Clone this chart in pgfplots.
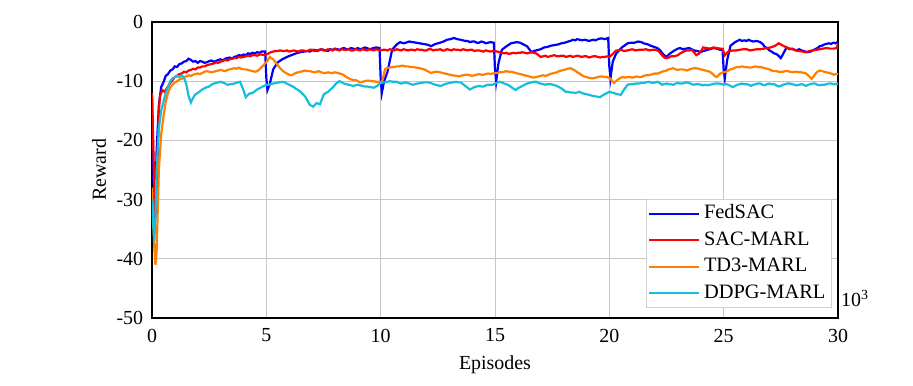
\documentclass[border=0pt]{standalone}
\usepackage{fontspec}
\setmainfont{Liberation Serif}
\usepackage{pgfplots}
\pgfplotsset{compat=1.18}
\definecolor{cFed}{RGB}{0,0,255}
\definecolor{cSAC}{RGB}{255,0,0}
\definecolor{cTD3}{RGB}{255,128,0}
\definecolor{cDDPG}{RGB}{20,190,220}
\begin{document}
\fontsize{20}{24}\selectfont
\begin{tikzpicture}
\begin{axis}[
  width=686bp, height=296bp, scale only axis,
  xmin=0, xmax=30, ymin=-50, ymax=0,
  xtick={0,5,...,30}, ytick={-50,-40,...,0},
  grid=major, major grid style={draw=black!22, line width=0.8bp},
  major tick length=0pt,
  axis line style={line width=1.5bp},
  tick label style={font=\fontsize{20}{24}\selectfont},
  label style={font=\fontsize{20}{24}\selectfont},
  /pgf/number format/assume math mode=true,
  xlabel={Episodes}, ylabel={Reward},
  xticklabel style={yshift=-4bp},
  yticklabel style={xshift=-2bp},
  ylabel style={yshift=-3bp},
  xlabel style={yshift=0bp},
  clip mode=individual,
  legend cell align=left,
  legend style={at={(0.991,0.034)}, anchor=south east, draw=black!18, line width=0.8bp,
    inner xsep=2bp, inner ysep=1bp, row sep=0pt,
    font=\fontsize{20.5}{24}\selectfont,
    nodes={inner xsep=4bp, inner ysep=4bp, text height=14bp, text depth=4.5bp}},
  legend image code/.code={\draw[#1, line width=1.9bp] (0bp,0bp) -- (50bp,0bp);},
]
\addplot[cFed, line width=2.2bp] table {
0 -12.5
0.05 -22
0.1 -34
0.15 -30
0.2 -22
0.3 -14
0.4 -11
0.5 -10.2
0.6 -9.1
0.7 -8.8
0.8 -8.2
0.9 -8.0
1.0 -7.5
1.1 -7.6
1.2 -7.1
1.3 -7.0
1.4 -6.7
1.5 -6.6
1.6 -6.2
1.7 -6.4
1.8 -6.7
1.9 -6.6
2.0 -6.9
2.1 -6.6
2.2 -6.7
2.3 -6.9
2.4 -6.8
2.5 -6.6
2.6 -6.5
2.7 -6.7
2.8 -6.6
2.9 -6.4
3.0 -6.3
3.1 -6.5
3.2 -6.2
3.3 -6.1
3.4 -6.0
3.5 -6.2
3.6 -5.9
3.7 -5.8
3.8 -5.6
3.9 -5.7
4.0 -5.5
4.1 -5.6
4.2 -5.3
4.3 -5.4
4.4 -5.2
4.5 -5.3
4.6 -5.1
4.7 -5.2
4.8 -5.0
4.95 -5.0
5.0 -9.5
5.05 -11.5
5.15 -10.5
5.3 -8.0
5.5 -6.8
5.7 -6.3
5.9 -5.9
6.1 -5.6
6.3 -5.3
6.5 -5.1
6.65 -5.0
6.8 -4.9
6.9 -5.0
7.0 -4.8
7.1 -4.7
7.2 -4.9
7.3 -4.8
7.4 -4.6
7.5 -4.7
7.6 -4.8
7.7 -4.9
7.8 -4.6
7.9 -4.7
8.0 -4.5
8.1 -4.6
8.2 -4.7
8.3 -4.5
8.4 -4.4
8.5 -4.6
8.6 -4.6
8.7 -4.4
8.8 -4.5
8.9 -4.6
9.0 -4.4
9.1 -4.6
9.2 -4.5
9.3 -4.3
9.4 -4.4
9.5 -4.6
9.6 -4.5
9.7 -4.4
9.8 -4.3
9.95 -4.4
10.0 -9.5
10.05 -12
10.15 -10
10.3 -8.4
10.5 -4.7
10.7 -3.8
10.85 -3.4
11.0 -3.6
11.1 -3.5
11.25 -3.3
11.4 -3.4
11.55 -3.5
11.7 -3.6
11.85 -3.7
12.0 -3.8
12.1 -3.9
12.2 -4.1
12.3 -3.9
12.4 -3.7
12.5 -3.6
12.6 -3.5
12.75 -3.3
12.9 -3.0
13.05 -2.9
13.2 -2.7
13.35 -2.9
13.5 -3.0
13.6 -3.1
13.7 -3.2
13.8 -3.2
13.9 -3.4
14.0 -3.3
14.1 -3.3
14.2 -3.5
14.3 -3.5
14.4 -3.3
14.5 -3.4
14.6 -3.6
14.7 -3.5
14.8 -3.4
14.95 -3.5
15.0 -8
15.05 -10.1
15.15 -7
15.3 -4.7
15.5 -4.1
15.7 -3.6
15.95 -3.4
16.1 -3.5
16.2 -3.7
16.3 -3.9
16.4 -4.1
16.5 -4.6
16.6 -5.1
16.7 -4.9
16.8 -4.8
16.9 -4.7
17.0 -4.6
17.15 -4.3
17.3 -4.2
17.45 -4.0
17.6 -3.9
17.75 -3.8
17.9 -3.6
18.05 -3.5
18.2 -3.3
18.3 -3.2
18.4 -3.0
18.5 -3.1
18.6 -2.9
18.7 -3.0
18.8 -3.1
18.95 -3.0
19.1 -3.2
19.2 -3.1
19.3 -3.0
19.4 -3.1
19.5 -2.9
19.6 -2.8
19.7 -2.8
19.8 -2.9
19.95 -2.7
20.0 -7.5
20.05 -9.5
20.15 -6.7
20.3 -5.3
20.55 -4.3
20.8 -3.6
20.95 -3.5
21.1 -3.5
21.25 -3.3
21.4 -3.4
21.5 -3.6
21.6 -3.7
21.7 -3.8
21.8 -4.0
21.95 -4.2
22.1 -4.4
22.2 -4.7
22.3 -5.2
22.4 -5.6
22.5 -5.9
22.6 -5.5
22.7 -5.2
22.85 -4.8
23.0 -4.5
23.1 -4.4
23.2 -4.6
23.35 -4.5
23.5 -4.4
23.6 -4.6
23.7 -4.8
23.85 -4.9
24.0 -5.1
24.1 -4.9
24.2 -4.8
24.3 -4.7
24.4 -4.6
24.55 -4.4
24.7 -4.5
24.85 -4.7
24.95 -4.6
25.0 -8.1
25.05 -9.5
25.15 -6.5
25.3 -4.0
25.5 -3.4
25.6 -3.2
25.7 -3.0
25.8 -3.2
25.9 -3.1
26.0 -3.2
26.1 -3.0
26.2 -3.2
26.3 -3.3
26.45 -3.2
26.6 -3.4
26.7 -3.7
26.8 -4.2
26.9 -4.4
27.0 -4.8
27.1 -5.0
27.2 -5.3
27.3 -5.4
27.4 -5.7
27.5 -6.1
27.6 -5.4
27.75 -4.3
27.9 -4.6
28.0 -4.5
28.1 -4.7
28.2 -4.8
28.3 -4.6
28.4 -4.8
28.5 -4.9
28.65 -5.1
28.8 -5.0
28.9 -4.8
29.0 -4.6
29.1 -4.4
29.2 -4.1
29.3 -4.0
29.4 -3.8
29.5 -3.7
29.6 -3.6
29.7 -3.7
29.8 -3.5
29.9 -3.6
30 -3.3
};
\addlegendentry{FedSAC}
\addplot[cSAC, line width=2.2bp] table {
0 -12
0.05 -20
0.1 -28
0.15 -33
0.2 -30
0.25 -22
0.3 -15
0.35 -12.5
0.45 -11.5
0.55 -11.8
0.65 -11.2
0.8 -10.3
0.9 -9.8
1.0 -9.3
1.1 -9.1
1.2 -8.8
1.3 -8.7
1.4 -8.4
1.5 -8.5
1.6 -8.2
1.7 -8.1
1.8 -7.9
1.9 -8.0
2.0 -7.7
2.1 -7.7
2.2 -7.5
2.3 -7.5
2.4 -7.3
2.5 -7.2
2.6 -7.1
2.7 -7.0
2.8 -6.8
2.9 -6.9
3.0 -6.7
3.1 -6.6
3.2 -6.4
3.3 -6.5
3.4 -6.3
3.5 -6.2
3.6 -6.1
3.7 -6.1
3.8 -5.9
3.9 -6.0
4.0 -5.9
4.1 -5.8
4.2 -5.7
4.3 -5.8
4.4 -5.6
4.5 -5.6
4.6 -5.7
4.7 -5.5
4.8 -5.5
4.9 -5.6
5.0 -5.5
5.1 -5.3
5.2 -5.1
5.3 -5.0
5.4 -4.9
5.5 -4.9
5.6 -4.8
5.7 -4.9
5.8 -4.9
5.9 -4.8
6.0 -5.0
6.1 -4.9
6.2 -4.8
6.3 -4.9
6.4 -5.0
6.5 -4.8
6.6 -4.8
6.7 -4.9
6.8 -4.9
6.9 -4.7
7.0 -4.7
7.1 -4.9
7.2 -4.8
7.3 -4.7
7.4 -4.6
7.5 -4.8
7.6 -4.8
7.7 -4.6
7.8 -4.7
7.9 -4.8
8.0 -4.6
8.1 -4.7
8.2 -4.8
8.3 -4.6
8.4 -4.7
8.5 -4.7
8.6 -4.6
8.7 -4.8
8.8 -4.8
8.9 -4.6
9.0 -4.7
9.1 -4.8
9.2 -4.6
9.3 -4.7
9.4 -4.8
9.5 -4.6
9.6 -4.7
9.7 -4.8
9.8 -4.6
9.9 -4.7
10.0 -4.8
10.1 -4.7
10.2 -4.7
10.3 -4.8
10.4 -4.6
10.5 -4.7
10.6 -4.8
10.7 -4.6
10.8 -4.7
10.9 -4.8
11.0 -4.6
11.1 -4.7
11.2 -4.8
11.3 -4.7
11.4 -4.7
11.5 -4.8
11.6 -4.6
11.7 -4.7
11.8 -4.7
11.9 -4.8
12.0 -4.8
12.1 -4.6
12.2 -4.6
12.3 -4.8
12.4 -4.7
12.5 -4.7
12.6 -4.6
12.7 -4.8
12.8 -4.8
12.9 -4.6
13.0 -4.7
13.1 -4.8
13.2 -4.6
13.3 -4.7
13.4 -4.7
13.5 -4.8
13.6 -4.6
13.7 -4.7
13.8 -4.8
13.9 -4.7
14.0 -4.7
14.1 -4.9
14.2 -4.8
14.3 -4.8
14.4 -4.9
14.5 -5.0
14.6 -4.8
14.7 -4.9
14.8 -5.0
14.9 -4.9
15.0 -4.9
15.1 -5.0
15.2 -5.1
15.3 -5.2
15.4 -5.3
15.5 -5.2
15.6 -5.4
15.7 -5.3
15.8 -5.2
15.9 -5.3
16.0 -5.2
16.1 -5.2
16.2 -5.1
16.3 -5.2
16.4 -5.3
16.5 -5.2
16.6 -5.1
16.7 -5.2
16.8 -5.3
16.9 -5.6
17.0 -5.9
17.1 -5.8
17.2 -5.7
17.3 -5.9
17.4 -5.8
17.5 -5.7
17.6 -5.6
17.7 -5.8
17.8 -5.8
17.9 -5.7
18.0 -5.7
18.1 -5.9
18.2 -5.8
18.3 -5.7
18.4 -5.9
18.5 -5.8
18.6 -5.7
18.7 -5.8
18.8 -5.9
18.9 -5.8
19.0 -5.8
19.1 -6.0
19.2 -5.9
19.3 -5.8
19.4 -5.8
19.5 -5.9
19.6 -6.0
19.7 -5.9
19.8 -5.9
19.9 -5.8
20.0 -5.9
20.15 -5.4
20.3 -4.8
20.4 -4.8
20.5 -4.7
20.65 -4.9
20.8 -4.8
20.9 -4.7
21.0 -4.6
21.15 -4.8
21.3 -4.7
21.45 -4.7
21.6 -4.6
21.75 -4.8
21.9 -4.7
22.0 -4.7
22.1 -4.8
22.2 -5.1
22.3 -5.6
22.4 -6.0
22.5 -6.1
22.6 -6.0
22.7 -5.8
22.85 -5.8
23.0 -5.6
23.1 -5.3
23.2 -5.1
23.3 -4.9
23.4 -4.8
23.5 -4.8
23.6 -4.7
23.7 -5.1
23.8 -5.6
23.9 -5.4
24.0 -5.0
24.1 -4.3
24.25 -4.4
24.4 -4.5
24.55 -4.3
24.7 -4.4
24.85 -4.5
24.95 -4.5
25.05 -5.6
25.1 -5.4
25.2 -5.0
25.3 -4.9
25.4 -4.8
25.55 -4.8
25.7 -4.7
25.85 -4.6
26.0 -4.6
26.15 -4.8
26.3 -4.7
26.45 -4.6
26.6 -4.6
26.75 -4.5
26.9 -4.4
27.05 -4.3
27.2 -4.1
27.3 -3.9
27.4 -3.6
27.5 -3.8
27.6 -4.0
27.7 -4.2
27.8 -4.4
27.9 -4.5
28.0 -4.6
28.15 -4.8
28.3 -4.9
28.45 -5.0
28.6 -5.1
28.75 -4.9
28.9 -4.8
29.05 -4.7
29.2 -4.6
29.35 -4.5
29.5 -4.4
29.65 -4.5
29.8 -4.5
29.95 -4.4
30 -3.6
};
\addlegendentry{SAC-MARL}
\addplot[cTD3, line width=2.2bp] table {
0 -28
0.05 -33
0.1 -38
0.15 -41
0.2 -39
0.25 -32
0.3 -25
0.4 -19
0.5 -16
0.6 -13.5
0.7 -12
0.8 -11
0.9 -10.6
1.0 -10.2
1.1 -10.0
1.2 -9.7
1.3 -9.6
1.4 -9.3
1.5 -9.2
1.6 -9.0
1.7 -9.1
1.8 -8.9
1.9 -8.8
2.0 -8.7
2.1 -8.8
2.2 -8.6
2.3 -8.4
2.4 -8.3
2.5 -8.4
2.6 -8.5
2.7 -8.4
2.8 -8.3
2.9 -8.2
3.0 -8.1
3.1 -8.2
3.2 -8.3
3.3 -8.1
3.4 -8.0
3.5 -7.9
3.6 -7.8
3.7 -7.9
3.8 -7.7
3.9 -7.9
4.0 -8.0
4.1 -8.0
4.2 -8.1
4.3 -8.2
4.4 -8.3
4.5 -8.4
4.6 -8.3
4.7 -8.0
4.8 -7.6
4.9 -7.2
5.0 -6.8
5.15 -5.9
5.3 -6.3
5.4 -6.8
5.5 -7.3
5.6 -7.8
5.7 -8.2
5.8 -8.5
5.9 -8.7
6.0 -8.9
6.1 -9.0
6.2 -8.8
6.3 -8.6
6.4 -8.5
6.5 -8.4
6.6 -8.3
6.7 -8.2
6.8 -8.3
6.9 -8.3
7.0 -8.4
7.1 -8.5
7.2 -8.4
7.3 -8.3
7.4 -8.5
7.5 -8.6
7.6 -8.6
7.7 -8.5
7.8 -8.6
7.9 -8.6
8.0 -8.5
8.1 -8.6
8.2 -8.7
8.3 -8.8
8.4 -9.0
8.5 -9.3
8.6 -9.5
8.7 -9.7
8.8 -9.8
8.9 -9.8
9.0 -10.0
9.1 -10.2
9.2 -10.1
9.3 -10.0
9.4 -9.9
9.5 -9.9
9.6 -10.0
9.7 -10.0
9.8 -10.1
9.9 -10.1
10.05 -10.2
10.2 -7.9
10.3 -7.8
10.4 -7.7
10.5 -7.6
10.6 -7.6
10.7 -7.5
10.8 -7.5
10.9 -7.4
11.0 -7.4
11.1 -7.5
11.2 -7.5
11.3 -7.6
11.4 -7.6
11.55 -7.7
11.7 -7.8
11.8 -7.9
11.9 -8.0
12.05 -8.3
12.2 -8.6
12.3 -8.5
12.4 -8.4
12.5 -8.4
12.6 -8.5
12.7 -8.6
12.8 -8.7
12.9 -8.8
13.0 -8.9
13.15 -9.0
13.3 -9.1
13.4 -9.2
13.5 -9.1
13.6 -9.0
13.7 -8.9
13.8 -8.9
13.9 -9.0
14.0 -9.1
14.1 -9.0
14.2 -8.9
14.3 -8.8
14.4 -8.9
14.5 -8.9
14.6 -8.8
14.7 -8.7
14.8 -8.8
14.9 -8.7
15.0 -8.6
15.1 -8.6
15.2 -8.5
15.3 -8.5
15.4 -8.4
15.5 -8.3
15.6 -8.4
15.7 -8.4
15.8 -8.5
15.9 -8.6
16.0 -8.7
16.1 -8.8
16.2 -8.9
16.3 -9.0
16.4 -9.1
16.5 -9.2
16.6 -9.3
16.7 -9.4
16.8 -9.3
16.9 -9.2
17.0 -9.1
17.1 -9.0
17.2 -9.1
17.3 -9.0
17.4 -8.8
17.5 -8.7
17.6 -8.6
17.7 -8.5
17.8 -8.3
17.9 -8.2
18.0 -8.1
18.1 -8.0
18.2 -7.9
18.3 -7.8
18.4 -8.0
18.5 -8.2
18.6 -8.5
18.7 -8.7
18.8 -9.0
18.9 -9.2
19.0 -9.3
19.1 -9.4
19.2 -9.5
19.3 -9.5
19.4 -9.4
19.5 -9.3
19.6 -9.2
19.7 -9.2
19.8 -9.3
19.9 -9.3
20.05 -9.6
20.2 -10.3
20.35 -9.8
20.5 -9.4
20.6 -9.3
20.7 -9.4
20.8 -9.3
20.9 -9.3
21.0 -9.4
21.1 -9.3
21.2 -9.2
21.3 -9.3
21.4 -9.3
21.5 -9.1
21.6 -9.0
21.7 -9.0
21.8 -8.9
21.9 -8.8
22.0 -8.7
22.1 -8.7
22.2 -8.6
22.3 -8.4
22.4 -8.3
22.5 -8.2
22.6 -8.0
22.7 -7.9
22.8 -7.8
22.9 -8.0
23.0 -8.1
23.1 -8.0
23.2 -8.0
23.3 -8.1
23.4 -8.2
23.5 -8.0
23.6 -7.9
23.7 -7.8
23.8 -7.8
23.9 -7.9
24.0 -8.0
24.1 -8.1
24.2 -8.2
24.3 -8.3
24.4 -8.4
24.5 -8.7
24.6 -9.1
24.7 -9.3
24.85 -8.7
25.0 -8.5
25.1 -8.4
25.2 -8.2
25.3 -8.0
25.4 -7.9
25.5 -7.7
25.6 -7.6
25.7 -7.6
25.8 -7.5
25.9 -7.6
26.0 -7.6
26.1 -7.7
26.2 -7.7
26.3 -7.6
26.4 -7.5
26.5 -7.6
26.6 -7.6
26.7 -7.7
26.8 -7.8
26.9 -7.9
27.0 -8.0
27.1 -8.2
27.2 -8.3
27.3 -8.3
27.4 -8.4
27.5 -8.4
27.6 -8.4
27.7 -8.3
27.8 -8.3
27.9 -8.4
28.0 -8.5
28.1 -8.4
28.2 -8.4
28.3 -8.5
28.4 -8.5
28.5 -8.6
28.6 -8.7
28.75 -9.2
28.85 -9.6
29.0 -8.8
29.1 -8.4
29.2 -8.2
29.3 -8.3
29.4 -8.4
29.5 -8.5
29.6 -8.6
29.7 -8.7
29.8 -8.9
29.9 -8.8
30 -8.8
};
\addlegendentry{TD3-MARL}
\addplot[cDDPG, line width=2.2bp] table {
0 -30
0.05 -34
0.1 -37
0.15 -33
0.2 -25
0.3 -18
0.4 -15
0.5 -13.5
0.6 -12
0.7 -11
0.8 -10
0.9 -9.5
1.0 -9.3
1.1 -9.1
1.2 -9.3
1.3 -9.0
1.4 -9.4
1.5 -10.5
1.6 -12.5
1.7 -13.6
1.8 -12.8
1.9 -12.2
2.0 -12.0
2.1 -11.7
2.2 -11.4
2.3 -11.2
2.4 -11.0
2.5 -10.9
2.6 -10.6
2.7 -10.4
2.8 -10.3
2.9 -10.2
3.0 -10.1
3.15 -10.3
3.3 -10.6
3.45 -10.5
3.6 -10.4
3.75 -10.2
3.85 -10.1
4.0 -11.5
4.1 -12.7
4.25 -12.1
4.4 -12.0
4.5 -11.7
4.6 -11.4
4.7 -11.2
4.8 -11.0
4.9 -10.8
5.0 -10.6
5.1 -10.6
5.2 -10.5
5.3 -10.4
5.4 -10.3
5.55 -10.2
5.7 -10.1
5.8 -10.2
5.9 -10.4
6.0 -10.6
6.1 -10.8
6.2 -11.0
6.3 -11.3
6.4 -11.5
6.5 -11.8
6.6 -12.2
6.7 -12.6
6.8 -13.3
6.9 -14.0
7.05 -14.3
7.2 -13.7
7.35 -13.9
7.5 -12.3
7.6 -12.0
7.7 -11.8
7.8 -11.4
7.9 -11.1
8.05 -10.4
8.2 -10.0
8.3 -10.2
8.4 -10.4
8.5 -10.5
8.6 -10.6
8.7 -10.7
8.8 -10.8
8.9 -10.7
9.0 -10.6
9.1 -10.7
9.2 -10.8
9.3 -10.9
9.4 -10.9
9.55 -11.0
9.7 -11.1
9.85 -10.8
10.0 -10.3
10.1 -10.2
10.2 -10.2
10.3 -10.1
10.4 -10.0
10.55 -10.1
10.7 -10.1
10.8 -10.3
10.9 -10.4
11.0 -10.3
11.1 -10.2
11.25 -10.4
11.4 -10.6
11.5 -10.5
11.6 -10.4
11.75 -10.3
11.9 -10.2
12.05 -10.2
12.2 -10.3
12.3 -10.5
12.4 -10.6
12.5 -10.7
12.6 -10.8
12.7 -10.7
12.8 -10.5
12.9 -10.4
13.0 -10.3
13.15 -10.2
13.3 -10.1
13.4 -10.2
13.5 -10.2
13.6 -10.5
13.7 -10.8
13.8 -11.1
13.9 -11.4
14.0 -11.2
14.1 -11.0
14.2 -10.9
14.3 -10.8
14.4 -10.9
14.5 -10.9
14.6 -10.7
14.7 -10.6
14.8 -10.6
14.9 -10.6
15.05 -10.3
15.2 -10.1
15.3 -10.2
15.4 -10.4
15.5 -10.5
15.6 -10.7
15.75 -11.1
15.9 -11.5
16.0 -11.2
16.1 -11.0
16.25 -10.7
16.4 -10.4
16.5 -10.3
16.6 -10.2
16.7 -10.1
16.8 -10.1
16.9 -10.3
17.0 -10.4
17.1 -10.5
17.2 -10.6
17.3 -10.5
17.4 -10.5
17.55 -10.6
17.7 -10.8
17.8 -11.0
17.9 -11.2
18.0 -11.5
18.1 -11.8
18.2 -11.8
18.3 -11.9
18.4 -11.9
18.5 -12.0
18.6 -11.9
18.7 -11.8
18.8 -12.0
18.9 -12.1
19.0 -12.2
19.1 -12.3
19.2 -12.4
19.3 -12.5
19.45 -12.6
19.6 -12.7
19.7 -12.4
19.8 -12.2
19.9 -12.0
20.0 -11.8
20.1 -11.9
20.2 -12.0
20.35 -12.2
20.5 -12.3
20.65 -11.4
20.8 -10.6
20.9 -10.5
21.0 -10.5
21.15 -10.4
21.3 -10.4
21.4 -10.3
21.5 -10.3
21.6 -10.2
21.7 -10.1
21.8 -10.2
21.9 -10.3
22.0 -10.2
22.1 -10.1
22.2 -10.3
22.3 -10.6
22.4 -10.5
22.5 -10.4
22.65 -10.5
22.8 -10.6
22.9 -10.4
23.0 -10.3
23.1 -10.4
23.2 -10.4
23.35 -10.2
23.5 -10.3
23.6 -10.5
23.7 -10.6
23.8 -10.5
23.9 -10.5
24.0 -10.6
24.1 -10.7
24.2 -10.6
24.3 -10.7
24.4 -10.6
24.5 -10.5
24.65 -10.4
24.8 -10.4
24.9 -10.5
25.0 -10.5
25.1 -10.5
25.2 -10.6
25.3 -10.8
25.4 -11.0
25.5 -10.8
25.6 -10.6
25.7 -10.5
25.8 -10.4
25.9 -10.5
26.0 -10.5
26.1 -10.6
26.2 -10.8
26.3 -10.6
26.4 -10.5
26.5 -10.4
26.6 -10.4
26.7 -10.6
26.8 -10.7
26.9 -10.5
27.0 -10.4
27.1 -10.5
27.2 -10.5
27.3 -10.7
27.4 -10.9
27.5 -10.8
27.6 -10.6
27.7 -10.5
27.8 -10.4
27.9 -10.4
28.0 -10.5
28.1 -10.6
28.2 -10.7
28.3 -10.6
28.4 -10.5
28.5 -10.6
28.6 -10.8
28.7 -10.6
28.8 -10.5
28.9 -10.4
29.0 -10.4
29.1 -10.6
29.2 -10.7
29.3 -10.6
29.4 -10.6
29.5 -10.5
29.6 -10.4
29.7 -10.4
29.8 -10.5
29.9 -10.5
30 -10.4
};
\addlegendentry{DDPG-MARL}
\end{axis}
\node[anchor=base west, inner sep=0pt] at ([xshift=3bp,yshift=11bp]current axis.south east) {10\textsuperscript{3}};
\path ([shift={(-152bp,-68bp)}]current axis.south west) rectangle ([shift={(75bp,22bp)}]current axis.north east);
\end{tikzpicture}
\end{document}
